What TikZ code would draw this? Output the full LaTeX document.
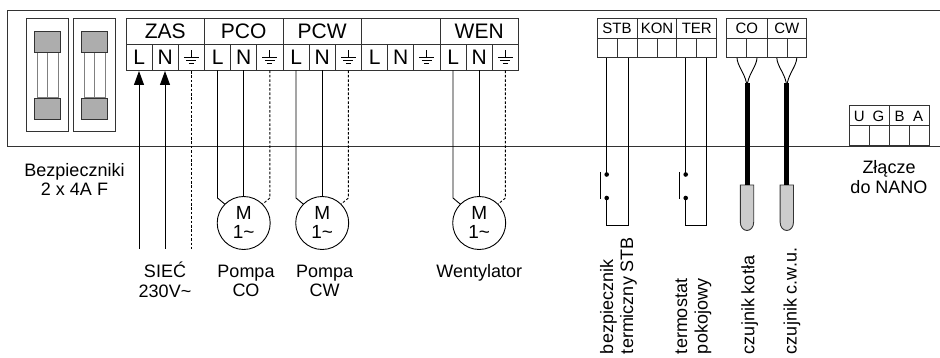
\documentclass[tikz,border=0pt]{standalone}
\usepackage{fontspec}
\setmainfont{Liberation Sans}
\usetikzlibrary{arrows.meta}
\definecolor{capg}{gray}{0.68}
\definecolor{senseg}{gray}{0.8}
\definecolor{linec}{gray}{0.2}
\tikzset{
  every node/.style={inner sep=0pt,outer sep=0pt},
  wire/.style={draw=black,line width=0.9pt},
  dwire/.style={draw=black,line width=0.9pt,dash pattern=on 2.6pt off 1.8pt},
  frame/.style={draw=linec,line width=1pt},
  cellline/.style={draw=linec,line width=1pt},
  bigtxt/.style={font=\fontsize{21}{21}\selectfont,anchor=base},
  smalltxt/.style={font=\fontsize{15}{15}\selectfont,anchor=base},
  lab/.style={font=\fontsize{18}{19.5}\selectfont,anchor=base},
  vlab/.style={font=\fontsize{18}{19.5}\selectfont,rotate=90,anchor=base west},
  wdot/.style={circle,fill=black,minimum size=4.6pt},
  motor/.style={circle,draw=black,line width=0.9pt,minimum size=53pt},
  mtxt/.style={font=\fontsize{19}{19}\selectfont,anchor=base},
  sensorbody/.style={draw=linec,line width=0.9pt,fill=senseg},
  fusecap/.style={draw=linec,line width=0.9pt,fill=capg},
  arrowed/.style={-{Triangle[length=14pt,width=10pt]}}
}
\begin{document}
\begin{tikzpicture}[x=1pt,y=-1pt]
\useasboundingbox (0,0) rectangle (940,358);
% enclosure
\draw[frame] (940,10.5) -- (7.5,10.5) -- (7.5,146.5) -- (940,146.5);
% fuses
\foreach \x in {26.5,73.5}{
  \draw[frame] (\x,18.5) rectangle (\x+42,131.5);
  \draw[frame,draw=gray] (\x+10.5,52) rectangle (\x+31.5,98);
  \draw[frame,draw=gray] (\x+21,52) -- (\x+21,98);
  \draw[fusecap] (\x+8,31) rectangle (\x+34,52);
  \draw[fusecap] (\x+8,98) rectangle (\x+34,119);
}
% main terminal
\draw[cellline] (126,18.5) rectangle (518.7,70.5);
\draw[cellline] (126,44.5) -- (518.7,44.5);
\foreach \i in {1,...,14}{
  \pgfmathsetmacro\xx{126+26.17*\i}
  \draw[cellline] (\xx,44.5) -- (\xx,70.5);
}
\foreach \i in {3,6,9,12}{
  \pgfmathsetmacro\xx{126+26.17*\i}
  \draw[cellline] (\xx,18.5) -- (\xx,44.5);
}
\node[bigtxt] (zas) at (165.2,39) {ZAS};
\node[bigtxt] (pco) at (243.7,39) {PCO};
\node[bigtxt] (pcw) at (322.2,39) {PCW};
\node[bigtxt] (wen) at (479.2,39) {WEN};
\foreach \i in {0,3,6,9,12}{
  \pgfmathsetmacro\xa{139.1+26.17*\i}
  \pgfmathsetmacro\xb{165.2+26.17*\i}
  \pgfmathsetmacro\xc{191.4+26.17*\i}
  \node[bigtxt] at (\xa,65) {L};
  \node[bigtxt] at (\xb,65) {N};
  \draw[line width=0.9pt] (\xc,50.5) -- (\xc,57);
  \draw[line width=0.9pt] (\xc-7.5,57) -- (\xc+7.5,57);
  \draw[line width=0.9pt] (\xc-5,60) -- (\xc+5,60);
  \draw[line width=0.9pt] (\xc-2.5,63) -- (\xc+2.5,63);
}
% mains
\coordinate (s1) at (139,249); \coordinate (t1) at (139,71);
\coordinate (s2) at (165,249); \coordinate (t2) at (165,71);
\coordinate (s3) at (191.4,249); \coordinate (t3) at (191.4,71);
\draw[wire,arrowed] (s1) -- (t1);
\draw[wire,arrowed] (s2) -- (t2);
\draw[dwire] (t3) -- (s3);
% motors
\foreach \m/\c in {m1/243.7,m2/322.2,m3/479.2}{
  \node[motor] (\m) at (\c,223) {};
  \node[mtxt] at (\c,220) {M};
  \node[mtxt] at (\c,239) {1\char`~};
  \draw[wire] (\c-26.2,70.5) -- (\c-26.2,198) -- (\m.135);
  \draw[wire] (\c,70.5) -- (\m.north);
  \draw[dwire] (\c+26.2,70.5) -- (\c+26.2,198) -- (\m.45);
}
% right terminal blocks
\draw[cellline] (597,18.5) rectangle (716.7,58);
\draw[cellline] (597,38.5) -- (716.7,38.5);
\foreach \x in {617,637,657,676.8,696.8}{\draw[cellline] (\x,38.5) -- (\x,58);}
\foreach \x in {637,676.8}{\draw[cellline] (\x,18.5) -- (\x,38.5);}
\node[smalltxt] (stb) at (617,34) {STB};
\node[smalltxt] (kon) at (657,34) {KON};
\node[smalltxt] (ter) at (696.8,34) {TER};
\draw[cellline] (726.7,18.5) rectangle (806.7,58);
\draw[cellline] (726.7,38.5) -- (806.7,38.5);
\foreach \x in {746.7,767,787}{\draw[cellline] (\x,38.5) -- (\x,58);}
\draw[cellline] (767,18.5) -- (767,38.5);
\node[smalltxt] (co) at (746.9,34) {CO};
\node[smalltxt] (cw) at (786.9,34) {CW};
% STB / TER loops
\foreach \p/\q/\r/\n in {606.7/628/600.5/a,685.7/706.3/679/b}{
  \node[wdot] (u\n) at (\p,174.5) {};
  \node[wdot] (d\n) at (\p,198) {};
  \draw[wire] (\p,58) -- (u\n.center);
  \draw[wire] (d\n.center) -- (\p,225) -- (\q,225) -- (\q,58);
  \draw[wire] (\r,172) -- (\r,199.5);
}
% sensors
\foreach \c in {747,786.8}{
  \draw[sensorbody] (\c-6.7,185) -- (\c-6.7,222) .. controls (\c-6.7,227) and (\c-3.7,230.5) .. (\c,230.5) .. controls (\c+3.7,230.5) and (\c+6.7,227) .. (\c+6.7,222) -- (\c+6.7,185) -- cycle;
  \draw[black,line width=5pt] (\c,83) -- (\c,185);
  \draw[wire] (\c-10,58) .. controls (\c-9.5,66) and (\c-2.5,73) .. (\c-0.5,83);
  \draw[wire] (\c+10,58) .. controls (\c+9.5,66) and (\c+2.5,73) .. (\c+0.5,83);
}
% NANO
\draw[cellline] (849.5,105.7) rectangle (929,145.5);
\draw[cellline] (849.5,125.3) -- (929,125.3);
\foreach \x in {869.5,909.5}{\draw[cellline] (\x,125.3) -- (\x,145.5);}
\draw[cellline] (889.5,105.7) -- (889.5,145.5);
\node[smalltxt] at (859.3,121.5) {U};
\node[smalltxt] at (878.5,121.5) {G};
\node[smalltxt] at (899.5,121.5) {B};
\node[smalltxt] at (918,121.5) {A};
% labels
\node[lab] at (74.5,177) {Bezpieczniki};
\node[lab] at (74.5,196) {2 x 4A F};
\node[lab] at (165,277) {SIEĆ};
\node[lab] at (165,297) {230V\char`~};
\node[lab] at (246,277) {Pompa};
\node[lab] at (246,296.5) {CO};
\node[lab] at (324.7,277) {Pompa};
\node[lab] at (324.7,296.5) {CW};
\node[lab] at (479.3,277) {Wentylator};
\node[lab] at (889,174) {Złącze};
\node[lab] at (889,194) {do NANO};
\node[vlab] at (613,354) {bezpiecznik};
\node[vlab] at (633,354) {termiczny STB};
\node[vlab] at (687,354) {termostat};
\node[vlab] at (707.7,354) {pokojowy};
\node[vlab] at (754.3,354) {czujnik kotła};
\node[vlab] at (796.7,354) {czujnik c.w.u.};
\end{tikzpicture}
\end{document}
